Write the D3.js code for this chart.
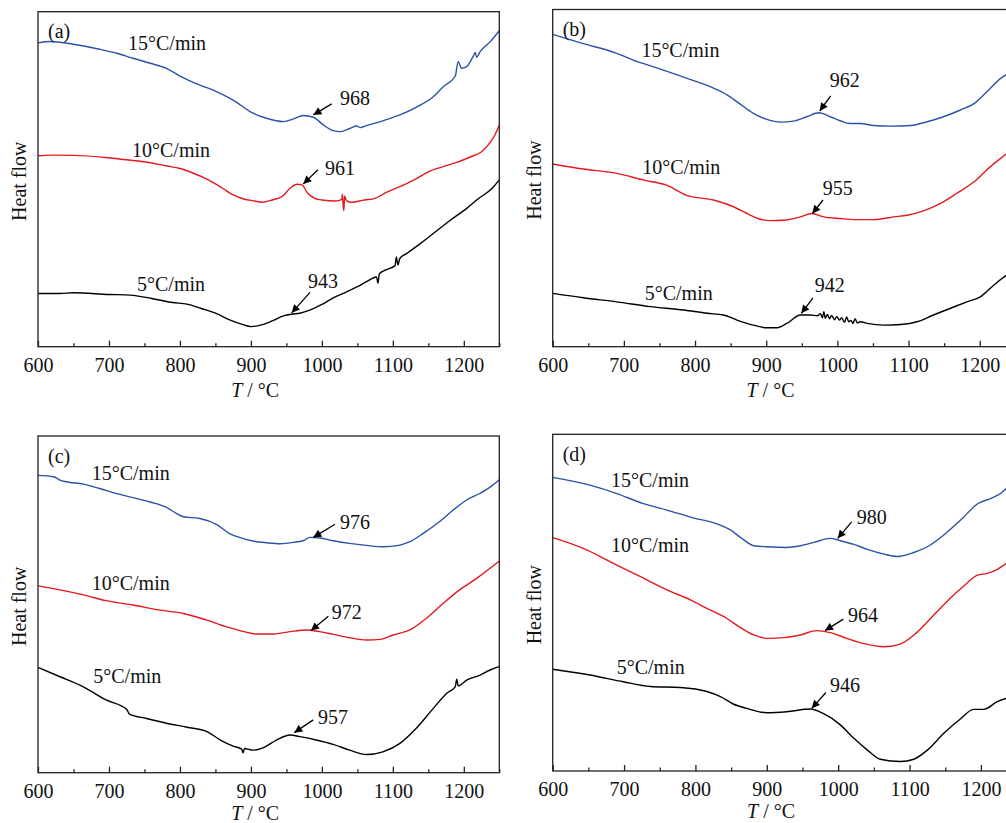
<!DOCTYPE html>
<html>
<head>
<meta charset="utf-8">
<script src="https://cdn.jsdelivr.net/npm/d3@7"></script>
<style>
  html, body { margin: 0; padding: 0; background: #fff; }
  svg { display: block; }
  text { font-family: "Liberation Serif", "Times New Roman", serif; fill: #111; }
</style>
</head>
<body>
<svg id="chart" width="1006" height="823"></svg>
<script>
// ---------------- DATA ----------------
const xDomain = [600, 1250];
const yDomain = [0, 100];           // heat flow, arbitrary units
const majorTicks = [600, 700, 800, 900, 1000, 1100, 1200];
const minorTicks = [650, 750, 850, 950, 1050, 1150, 1250];
const rateLabels = ["15°C/min", "10°C/min", "5°C/min"];
const panelLetters = ["(a)", "(b)", "(c)", "(d)"];
const xTitle = ["T", " / °C"];
const yTitle = "Heat flow";

// Panel (a)
const a15 = [[600,90.7],[617,91.1],[650,90.3],[687,88.8],[711,87.6],[734,86.1],[758,84.6],[781,83.1],[800,80.8],[828,78.1],[847,76.6],[875,73.6],[903,69.7],[922,68.2],[946,67.2],[960,68.0],[974,69.0],[988,68.5],[1002,66.2],[1016,64.5],[1026,64.2],[1040,65.2],[1049,65.9],[1054,65.4],[1063,66.0],[1087,67.5],[1110,69.2],[1134,71.6],[1157,74.6],[1171,77.6],[1188,80.8],[1192,85.1],[1197,83.1],[1204,83.6],[1213,86.6],[1216,87.8],[1218,86.4],[1223,88.1],[1237,91.0],[1250,94.3]];
const a10 = [[600,57.0],[620,57.2],[650,57.1],[700,56.4],[720,55.9],[750,55.2],[780,54.0],[800,53.2],[820,51.7],[840,49.8],[860,47.3],[875,45.3],[890,44.1],[905,43.5],[915,43.1],[930,43.8],[945,45.0],[955,47.3],[965,48.5],[972,48.3],[980,45.8],[990,44.3],[1000,43.8],[1020,43.5],[1028,44.0],[1029,45.5],[1030,42.0],[1031,40.6],[1032,45.0],[1034,43.8],[1040,43.1],[1060,43.8],[1075,44.3],[1090,46.0],[1110,47.8],[1130,49.8],[1150,52.2],[1170,53.7],[1190,55.0],[1210,56.7],[1225,58.2],[1235,60.4],[1243,62.9],[1250,66.2]];
const a5 = [[600,15.9],[630,15.9],[650,16.1],[700,15.6],[730,15.4],[760,14.4],[790,13.2],[810,12.7],[830,11.4],[850,10.0],[870,8.0],[890,6.5],[900,6.0],[915,6.5],[930,7.7],[946,9.2],[957,9.7],[969,10.0],[983,10.9],[1000,12.6],[1016,14.6],[1030,15.9],[1050,17.9],[1063,19.4],[1077,20.8],[1079,19.0],[1081,21.8],[1090,22.9],[1103,24.2],[1105,26.8],[1107,24.4],[1110,26.4],[1120,27.9],[1140,31.0],[1157,33.8],[1180,37.6],[1204,41.3],[1220,44.1],[1240,47.3],[1250,49.8]];

// Panel (b)
const b15 = [[600,92.6],[643,89.9],[690,87.0],[713,85.0],[742,83.0],[770,81.0],[798,78.9],[826,76.7],[845,74.7],[863,72.0],[882,69.2],[901,67.4],[920,66.6],[938,66.9],[957,68.2],[974,69.4],[990,68.2],[1004,67.0],[1018,66.2],[1032,66.2],[1051,65.6],[1074,65.4],[1103,65.6],[1126,66.7],[1149,68.2],[1173,70.2],[1192,72.1],[1210,75.6],[1229,79.5],[1238,80.8],[1250,83.0]];
const b10 = [[600,54.2],[643,52.7],[690,51.4],[728,49.4],[760,47.9],[788,44.9],[826,43.5],[854,41.5],[873,39.5],[892,37.8],[906,37.4],[924,37.5],[948,38.5],[964,39.5],[981,38.5],[1004,38.0],[1023,37.7],[1051,37.7],[1079,38.5],[1098,39.0],[1121,40.3],[1145,42.5],[1168,45.5],[1192,48.9],[1215,53.4],[1238,57.3],[1250,59.5]];
const b5 = [[600,15.8],[643,14.5],[690,13.3],[737,11.9],[784,10.9],[817,9.9],[840,9.4],[859,7.9],[882,6.4],[901,5.6],[915,5.6],[929,6.9],[948,9.4],[962,9.4],[972,9.2],[976,9.8],[979,8.6],[981,10.4],[983,8.4],[986,9.6],[989,8.3],[992,9.3],[996,8.0],[999,8.9],[1003,7.9],[1006,8.6],[1010,7.2],[1013,8.8],[1016,7.4],[1019,7.8],[1022,6.9],[1025,8.3],[1028,7.0],[1032,7.4],[1042,6.9],[1065,6.4],[1089,6.6],[1112,7.4],[1135,9.4],[1159,11.4],[1182,13.3],[1201,14.8],[1220,18.3],[1238,21.2],[1250,22.5]];

// Panel (c)
const c15 = [[600,88.3],[622,87.9],[631,86.9],[640,86.4],[664,85.7],[687,84.4],[711,82.9],[734,81.7],[758,80.4],[781,78.8],[795,77.0],[805,76.0],[828,75.5],[852,73.7],[870,71.0],[885,69.8],[903,68.8],[922,68.3],[941,68.0],[960,68.4],[976,69.1],[983,69.9],[997,69.7],[1016,68.9],[1039,68.1],[1063,67.5],[1086,67.1],[1110,67.6],[1124,68.6],[1143,71.1],[1166,74.6],[1185,78.0],[1204,81.0],[1223,83.0],[1237,84.8],[1250,87.0]];
const c10 = [[600,55.5],[631,54.3],[664,52.8],[696,51.1],[734,49.8],[772,48.3],[805,47.3],[838,45.3],[866,43.3],[890,41.9],[908,41.2],[932,41.2],[955,41.9],[978,42.4],[997,41.9],[1016,41.1],[1039,40.1],[1063,39.4],[1082,39.6],[1100,40.9],[1124,42.4],[1147,45.8],[1171,50.3],[1194,54.3],[1218,57.7],[1237,60.7],[1250,62.9]];
const c5 = [[600,31.3],[631,28.5],[664,25.5],[696,21.6],[725,18.8],[729,17.4],[753,16.1],[781,14.7],[810,13.5],[838,12.2],[857,9.7],[875,7.9],[887,7.0],[889,5.9],[891,7.2],[903,6.7],[917,7.4],[936,9.7],[955,11.2],[969,10.7],[992,9.7],[1016,8.4],[1039,6.7],[1063,5.4],[1086,6.2],[1110,8.7],[1133,13.2],[1157,19.1],[1176,23.6],[1188,25.6],[1190,27.8],[1192,25.8],[1204,27.5],[1223,29.0],[1237,30.5],[1250,31.5]];

// Panel (d)
const d15 = [[600,87.2],[652,84.9],[690,82.4],[727,79.4],[760,77.5],[797,75.2],[830,73.4],[849,71.6],[863,69.4],[882,66.9],[900,66.6],[928,66.4],[947,66.9],[966,67.9],[989,69.1],[1003,68.4],[1022,67.3],[1041,65.8],[1064,64.4],[1083,63.7],[1106,64.9],[1125,66.6],[1148,70.1],[1172,74.6],[1195,79.3],[1214,81.0],[1228,82.5],[1236,84.0],[1250,86.5]];
const d10 = [[600,69.3],[643,66.1],[680,62.2],[723,57.7],[760,53.8],[793,50.8],[816,48.3],[844,45.3],[863,42.6],[882,40.4],[900,39.4],[924,39.6],[947,40.4],[970,41.7],[989,41.1],[1012,39.4],[1035,37.9],[1064,36.9],[1087,37.7],[1110,41.1],[1134,46.3],[1157,51.3],[1180,55.7],[1195,58.2],[1209,58.7],[1223,59.9],[1236,61.7],[1250,63.5]];
const d5 = [[600,30.2],[652,28.5],[699,26.5],[737,25.1],[779,24.8],[816,23.6],[835,22.1],[853,19.9],[872,18.6],[900,17.3],[928,17.6],[961,18.4],[979,17.1],[1003,13.7],[1022,9.7],[1041,6.2],[1059,3.5],[1087,2.8],[1106,3.5],[1125,6.2],[1148,11.2],[1172,15.6],[1190,18.3],[1204,18.3],[1223,20.6],[1236,21.6],[1250,22.5]];

// Series-label positions [T, heat flow] per panel
const labPosA = [[726.8,90.8],[732.5,58.8],[739.5,18.8]];
const labPosB = [[724.6,88.0],[726.0,53.4],[729.3,16.0]];
const labPosC = [[675.7,89.1],[675.7,56.4],[677.9,28.7]];
const labPosD = [[681.7,86.4],[681.7,67.1],[689.7,30.8]];

// Peak annotations: label, arrow tip, arrow tail, text anchor (all in data units)
const annA = [
  {label:"968", tip:[988,69.2],   tail:[1013.8,72.5], text:[1025.5,74.3]},
  {label:"961", tip:[973.8,48.6], tail:[994.5,52.8],  text:[1004.4,53.4]},
  {label:"943", tip:[957.5,10.1], tail:[983.3,16.2],  text:[980.4,19.7]}
];
const annB = [
  {label:"962", tip:[975.2,69.9], tail:[990.6,74.4],  text:[989.2,79.1]},
  {label:"955", tip:[964.9,39.5], tail:[979.8,43.5],  text:[979.4,47.1]},
  {label:"942", tip:[949.4,9.9],  tail:[965.7,14.5],  text:[968.1,18.3]}
];
const annC = [
  {label:"976", tip:[987.9,69.9], tail:[1018.5,73.8], text:[1025.5,74.5]},
  {label:"972", tip:[984.7,42.2], tail:[1009.1,46.5], text:[1013.9,47.8]},
  {label:"957", tip:[961.1,11.9], tail:[987.9,15.7],  text:[994.5,16.6]}
];
const annD = [
  {label:"980", tip:[999.3,69.1], tail:[1018.9,74.0], text:[1025.9,75.5]},
  {label:"964", tip:[981.5,41.7], tail:[1007.2,45.1], text:[1013.8,46.3]},
  {label:"946", tip:[962.9,18.6], tail:[982.9,23.3],  text:[988.5,25.5]}
];

// ---------------- LAYOUT / STYLE ----------------
const colors = ["#2b52a6", "#e4191e", "#000000"];
const FONT = 20;

const panels = [
  {letter:panelLetters[0], series:[a15,a10,a5], labPos:labPosA, ann:annA, left:38,    right:499.3,  top:11.7,  bottom:346.7, titleGap:50},
  {letter:panelLetters[1], series:[b15,b10,b5], labPos:labPosB, ann:annB, left:552.7, right:1015.3, top:9.5,   bottom:346.7, titleGap:50},
  {letter:panelLetters[2], series:[c15,c10,c5], labPos:labPosC, ann:annC, left:38,    right:499.3,  top:436,   bottom:772.7, titleGap:47},
  {letter:panelLetters[3], series:[d15,d10,d5], labPos:labPosD, ann:annD, left:552.7, right:1016.6, top:434.3, bottom:771,   titleGap:47}
];

const svg = d3.select("#chart");
svg.append("defs").append("marker")
  .attr("id", "arrow")
  .attr("viewBox", "0 0 10 10")
  .attr("refX", 10).attr("refY", 5)
  .attr("markerUnits", "userSpaceOnUse")
  .attr("markerWidth", 9).attr("markerHeight", 8)
  .attr("orient", "auto")
  .append("path").attr("d", "M0,0 L10,5 L0,10 Z").attr("fill", "#000");

panels.forEach(p => {
  const x = d3.scaleLinear().domain(xDomain).range([p.left, p.right]);
  const y = d3.scaleLinear().domain(yDomain).range([p.bottom, p.top]);
  const g = svg.append("g");

  // curves
  const line = d3.line().x(d => x(d[0])).y(d => y(d[1])).curve(d3.curveMonotoneX);
  p.series.forEach((s, i) => {
    g.append("path").datum(s)
      .attr("d", line)
      .attr("fill", "none")
      .attr("stroke", colors[i])
      .attr("stroke-width", 1.4)
      .attr("stroke-linejoin", "round");
  });

  // frame
  g.append("rect")
    .attr("x", p.left).attr("y", p.top)
    .attr("width", p.right - p.left).attr("height", p.bottom - p.top)
    .attr("fill", "none").attr("stroke", "#222").attr("stroke-width", 1.3);

  // major ticks + labels
  const axis = d3.axisBottom(x).tickValues(majorTicks).tickFormat(d3.format("d"))
    .tickSizeInner(-6).tickSizeOuter(0).tickPadding(11);
  const ag = g.append("g").attr("transform", `translate(0,${p.bottom})`).call(axis);
  ag.select(".domain").remove();
  ag.selectAll(".tick line").attr("stroke", "#222").attr("stroke-width", 1.3);
  ag.selectAll(".tick text")
    .attr("font-family", '"Liberation Serif", "Times New Roman", serif')
    .attr("font-size", FONT).attr("fill", "#111");

  // minor ticks
  const mg = g.append("g").attr("transform", `translate(0,${p.bottom})`)
    .call(d3.axisBottom(x).tickValues(minorTicks).tickFormat("").tickSizeInner(-3.5).tickSizeOuter(0));
  mg.select(".domain").remove();
  mg.selectAll(".tick line").attr("stroke", "#222").attr("stroke-width", 1.3);

  // x title
  const xt = g.append("text")
    .attr("x", x(906)).attr("y", p.bottom + p.titleGap)
    .attr("text-anchor", "middle").attr("font-size", FONT);
  xt.append("tspan").attr("font-style", "italic").text(xTitle[0]);
  xt.append("tspan").text(xTitle[1]);

  // y title
  g.append("text")
    .attr("transform", `translate(${p.left - 19},${(p.top + p.bottom) / 2 + 2}) rotate(-90)`)
    .attr("text-anchor", "middle").attr("dominant-baseline", "central")
    .attr("font-size", FONT).text(yTitle);

  // panel letter
  g.append("text")
    .attr("x", p.left + 10).attr("y", p.top + 19.5)
    .attr("dominant-baseline", "central")
    .attr("font-size", FONT).text(p.letter);

  // series labels
  p.labPos.forEach((pos, i) => {
    g.append("text")
      .attr("x", x(pos[0])).attr("y", y(pos[1]))
      .attr("dominant-baseline", "central")
      .attr("font-size", FONT).text(rateLabels[i]);
  });

  // peak annotations
  p.ann.forEach(a => {
    g.append("line")
      .attr("x1", x(a.tail[0])).attr("y1", y(a.tail[1]))
      .attr("x2", x(a.tip[0])).attr("y2", y(a.tip[1]))
      .attr("stroke", "#000").attr("stroke-width", 1.3)
      .attr("marker-end", "url(#arrow)");
    g.append("text")
      .attr("x", x(a.text[0])).attr("y", y(a.text[1]))
      .attr("dominant-baseline", "central")
      .attr("font-size", FONT).text(a.label);
  });
});
</script>
</body>
</html>
